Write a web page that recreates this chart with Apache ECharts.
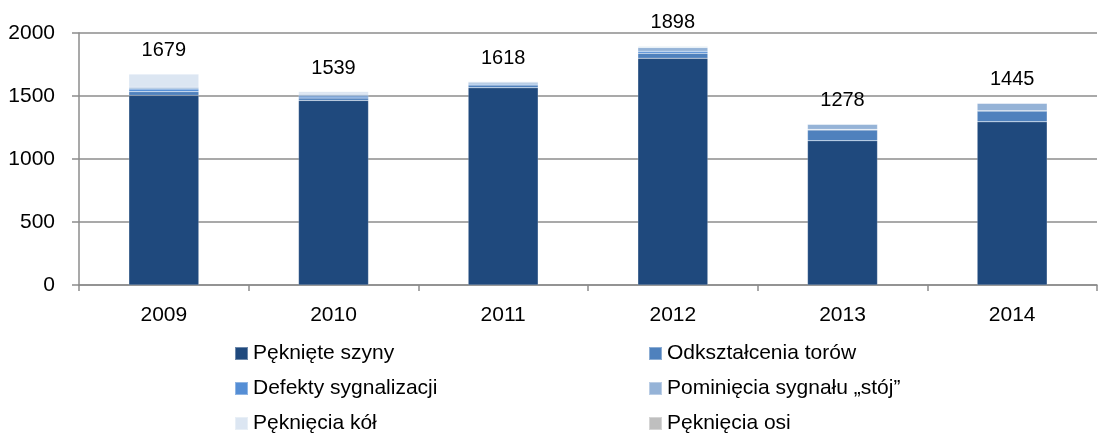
<!DOCTYPE html>
<html lang="pl">
<head>
  <meta charset="UTF-8">
  <title>Wypadki</title>
  <script src="https://cdn.jsdelivr.net/npm/echarts@6/dist/echarts.min.js"></script>
</head>
<body style="margin:0">
  <div id="chart" style="width:1101px;height:439px;"></div>
  <script>
    var years = ['2009', '2010', '2011', '2012', '2013', '2014']
    var szyny = [1505, 1465, 1565, 1800, 1145, 1295]
    var tory = [30, 20, 22, 40, 85, 85]
    var sygnalizacja = [20, 15, 8, 15, 5, 3]
    var pominiecia = [15, 14, 15, 30, 40, 60]
    var kola = [105, 22, 5, 10, 2, 1]
    var osie = [4, 3, 3, 3, 1, 1]
    var totals = [1679, 1539, 1618, 1898, 1278, 1445]
    var yTicks = [0, 500, 1000, 1500, 2000]

    var names = ['Pęknięte szyny', 'Odkształcenia torów', 'Defekty sygnalizacji',
      'Pominięcia sygnału „stój”', 'Pęknięcia kół', 'Pęknięcia osi']
    var colors = ['#1F497D', '#4F81BD', '#558ED5', '#95B3D7', '#DCE6F2', '#BFBFBF']
    var values = [szyny, tory, sygnalizacja, pominiecia, kola, osie]

    var series = names.map(function (n, i) {
      var s = {
        name: n,
        type: 'bar',
        stack: 'all',
        barWidth: 70,
        data: values[i],
        itemStyle: { color: colors[i], borderColor: 'rgba(255,255,255,0.35)', borderWidth: 0.5 }
      }
      if (i === names.length - 1) {
        s.label = {
          show: true,
          position: 'top',
          distance: 13,
          color: '#000',
          fontSize: 20,
          fontFamily: 'Liberation Sans',
          formatter: function (p) { return totals[p.dataIndex] }
        }
      }
      return s
    })

    var legendText = { fontSize: 21, lineHeight: 21, color: '#000', fontFamily: 'Liberation Sans', padding: 0 }
    var chart = echarts.init(document.getElementById('chart'))
    chart.setOption({
      animation: false,
      grid: { left: 79, right: 4, top: 33, bottom: 154 },
      legend: [
        {
          orient: 'vertical', left: 234, top: 343, height: 96, padding: 0,
          itemWidth: 13, itemHeight: 13, itemGap: 14, icon: 'rect', textStyle: legendText,
          data: [names[0], names[2], names[4]]
        },
        {
          orient: 'vertical', left: 648, top: 343, height: 96, padding: 0,
          itemWidth: 13, itemHeight: 13, itemGap: 14, icon: 'rect', textStyle: legendText,
          data: [names[1], names[3], names[5]]
        }
      ],
      xAxis: {
        type: 'category',
        data: years,
        axisLine: { lineStyle: { color: '#8c8c8c', width: 1.5 } },
        axisTick: { show: true, length: 6, lineStyle: { color: '#8c8c8c', width: 1.5 } },
        axisLabel: { color: '#000', fontSize: 21, fontFamily: 'Liberation Sans', margin: 20 }
      },
      yAxis: {
        type: 'value',
        min: yTicks[0],
        max: yTicks[yTicks.length - 1],
        interval: 500,
        axisLine: { show: true, lineStyle: { color: '#8c8c8c', width: 1.5 } },
        axisTick: { show: true, length: 7, lineStyle: { color: '#8c8c8c', width: 1.5 } },
        splitLine: { lineStyle: { color: '#8c8c8c', width: 1.5 } },
        axisLabel: {
          color: '#000', fontSize: 21, fontFamily: 'Liberation Sans', margin: 24,
          formatter: function (v) { return String(v) }
        }
      },
      series: series
    })
  </script>
</body>
</html>
